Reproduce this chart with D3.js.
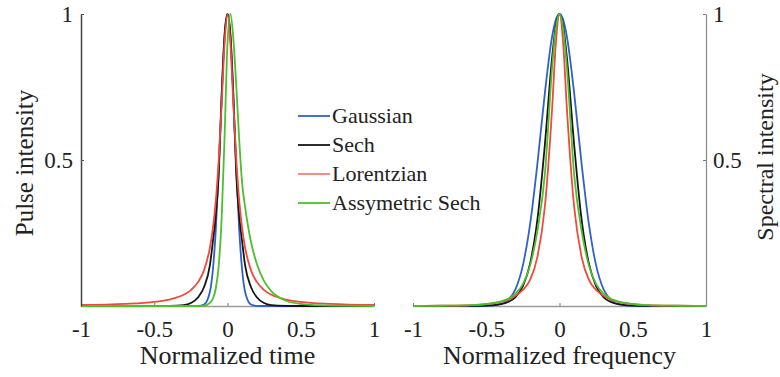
<!DOCTYPE html>
<html>
<head>
<meta charset="utf-8">
<script src="https://cdn.jsdelivr.net/npm/d3@7"></script>
<style>
  body { margin: 0; background: #fff; }
  svg text { font-family: "Liberation Serif", "LiberationSerif", "Tinos", "Noto Serif", "DejaVu Serif", "Times New Roman", Times, serif; }
</style>
</head>
<body>
<div id="chart"></div>
<script>
// values
const seriesNames = ["Gaussian", "Sech", "Lorentzian", "Assymetric Sech"]
const seriesColors = ["#2f62c9", "#151515", "#ef4a3c", "#4cbf2e"]
const legendColors = ["#2f62c9", "#151515", "#f2837a", "#4cbf2e"]

const timeX = [-1, -0.7, -0.5, -0.4, -0.3, -0.25, -0.2, -0.16, -0.12, -0.1, -0.08, -0.06, -0.04, -0.02, 0,
               0.02, 0.04, 0.06, 0.08, 0.1, 0.12, 0.16, 0.2, 0.25, 0.3, 0.4, 0.5, 0.7, 1]
const pulseGauss = [0, 0, 0, 0, 0, 0, 0.0002, 0.005, 0.049, 0.123, 0.26, 0.47, 0.715, 0.92, 1,
                    0.92, 0.715, 0.47, 0.26, 0.123, 0.049, 0.005, 0.0002, 0, 0, 0, 0, 0, 0]
const pulseSech = [0, 0, 0, 0.0005, 0.003, 0.01, 0.03, 0.065, 0.14, 0.22, 0.31, 0.45, 0.72, 0.93, 1,
                   0.93, 0.72, 0.45, 0.31, 0.22, 0.14, 0.065, 0.03, 0.01, 0.003, 0.0005, 0, 0, 0]
const pulseLorentz = [0.0036, 0.0073, 0.0142, 0.022, 0.0385, 0.0545, 0.0826, 0.123, 0.2, 0.265, 0.36, 0.5, 0.692, 0.9, 1,
                      0.9, 0.692, 0.5, 0.36, 0.265, 0.2, 0.123, 0.0826, 0.0545, 0.0385, 0.022, 0.0142, 0.0073, 0.0036]
const pulseAsym = [0, 0, 0, 0, 0, 0, 0, 0.001, 0.0105, 0.025, 0.06, 0.138, 0.3, 0.58, 0.9,
                   1, 0.915, 0.753, 0.569, 0.42, 0.34, 0.22, 0.145, 0.085, 0.05, 0.018, 0.007, 0.001, 0]

const freqX = [-1, -0.8, -0.6, -0.5, -0.4, -0.35, -0.3, -0.25, -0.2, -0.15, -0.1, -0.05, -0.025, 0,
               0.025, 0.05, 0.1, 0.15, 0.2, 0.25, 0.3, 0.35, 0.4, 0.5, 0.6, 0.8, 1]
const specGauss = [0, 0, 0, 0.0004, 0.0064, 0.021, 0.058, 0.139, 0.283, 0.491, 0.729, 0.924, 0.98, 1,
                   0.98, 0.924, 0.729, 0.491, 0.283, 0.139, 0.058, 0.021, 0.0064, 0.0004, 0, 0, 0]
const specSech = [0, 0.0001, 0.0003, 0.0012, 0.0061, 0.0138, 0.0306, 0.0678, 0.147, 0.299, 0.552, 0.853, 0.96, 1,
                  0.96, 0.853, 0.552, 0.299, 0.147, 0.0678, 0.0306, 0.0138, 0.0061, 0.0012, 0.0003, 0.0001, 0]
const specLorentz = [0, 0.001, 0.003, 0.006, 0.014, 0.022, 0.035, 0.055, 0.09, 0.17, 0.34, 0.68, 0.9, 1,
                     0.9, 0.68, 0.34, 0.17, 0.09, 0.055, 0.035, 0.022, 0.014, 0.006, 0.003, 0.001, 0]
const specAsym = [0, 0.0008, 0.003, 0.007, 0.016, 0.025, 0.042, 0.075, 0.14, 0.26, 0.45, 0.82, 0.95, 1,
                  0.95, 0.82, 0.45, 0.26, 0.14, 0.075, 0.042, 0.025, 0.016, 0.007, 0.003, 0.0008, 0]

const xTicks = [-1, -0.5, 0, 0.5, 1]
const yTicks = [0.5, 1]

const width = 780
const height = 377
const plotTop = 14, plotBottom = 306

const svg = d3.select("#chart").append("svg").attr("width", width).attr("height", height)

const yScale = d3.scaleLinear().domain([0, 1]).range([plotBottom, plotTop])

function panel(x0, x1, xs, curves, xTitle) {
  const xScale = d3.scaleLinear().domain([-1, 1]).range([x0, x1])

  svg.append("g")
    .attr("transform", "translate(0," + plotBottom + ")")
    .call(d3.axisBottom(xScale).tickValues(xTicks).tickSize(-3).tickSizeOuter(0)
      .tickPadding(15).tickFormat(function(d) { return String(d) }))
    .call(function(g) {
      g.attr("font-family", null)
      g.select(".domain").attr("stroke", "#9a9a9a").attr("stroke-width", 1.5)
      g.selectAll(".tick line").attr("stroke", "#777")
      g.selectAll("text").attr("font-size", 23).attr("fill", "#222")
    })

  const line = d3.line()
    .x(function(d) { return xScale(d[0]) })
    .y(function(d) { return yScale(d[1]) })
    .curve(d3.curveMonotoneX)

  curves.forEach(function(vals, i) {
    const pts = xs.map(function(x, j) { return [x, vals[j]] })
    svg.append("path")
      .datum(pts)
      .attr("fill", "none")
      .attr("stroke", seriesColors[i])
      .attr("stroke-width", 1.8)
      .attr("d", line)
  })

  svg.append("text")
    .attr("x", (x0 + x1) / 2)
    .attr("y", 364)
    .attr("text-anchor", "middle")
    .attr("font-size", 26)
    .attr("fill", "#222")
    .text(xTitle)
}

panel(81, 374, timeX, [pulseGauss, pulseSech, pulseLorentz, pulseAsym], "Normalized time")
panel(413, 706, freqX, [specGauss, specSech, specLorentz, specAsym], "Normalized frequency")

// left y axis
svg.append("g")
  .attr("transform", "translate(81,0)")
  .call(d3.axisLeft(yScale).tickValues(yTicks).tickSize(-3).tickSizeOuter(0)
    .tickPadding(8).tickFormat(function(d) { return String(d) }))
  .call(function(g) {
    g.attr("font-family", null)
    g.select(".domain").attr("stroke", "#444").attr("stroke-width", 1.5)
    g.selectAll(".tick line").attr("stroke", "#555")
    g.selectAll("text").attr("font-size", 23).attr("fill", "#222")
  })

// right y axis
svg.append("g")
  .attr("transform", "translate(706,0)")
  .call(d3.axisRight(yScale).tickValues(yTicks).tickSize(-3).tickSizeOuter(0)
    .tickPadding(7).tickFormat(function(d) { return String(d) }))
  .call(function(g) {
    g.attr("font-family", null)
    g.select(".domain").attr("stroke", "#8a8a8a").attr("stroke-width", 1.2)
    g.selectAll(".tick line").attr("stroke", "#777")
    g.selectAll("text").attr("font-size", 23).attr("fill", "#222")
  })

svg.append("text")
  .attr("transform", "translate(33,163) rotate(-90)")
  .attr("text-anchor", "middle")
  .attr("font-size", 25)
  .attr("fill", "#222")
  .text("Pulse intensity")

svg.append("text")
  .attr("transform", "translate(773,157) rotate(-90)")
  .attr("text-anchor", "middle")
  .attr("font-size", 24)
  .attr("fill", "#222")
  .text("Spectral intensity")

// legend
const legend = svg.append("g").attr("transform", "translate(298,116)")
seriesNames.forEach(function(name, i) {
  const row = legend.append("g").attr("transform", "translate(0," + (i * 29) + ")")
  row.append("line")
    .attr("x1", 0).attr("x2", 32).attr("y1", 0).attr("y2", 0)
    .attr("stroke", legendColors[i]).attr("stroke-width", 1.8)
  row.append("text")
    .attr("x", 34).attr("y", 7)
    .attr("font-size", 22)
    .attr("fill", "#222")
    .text(name)
})
</script>
</body>
</html>
